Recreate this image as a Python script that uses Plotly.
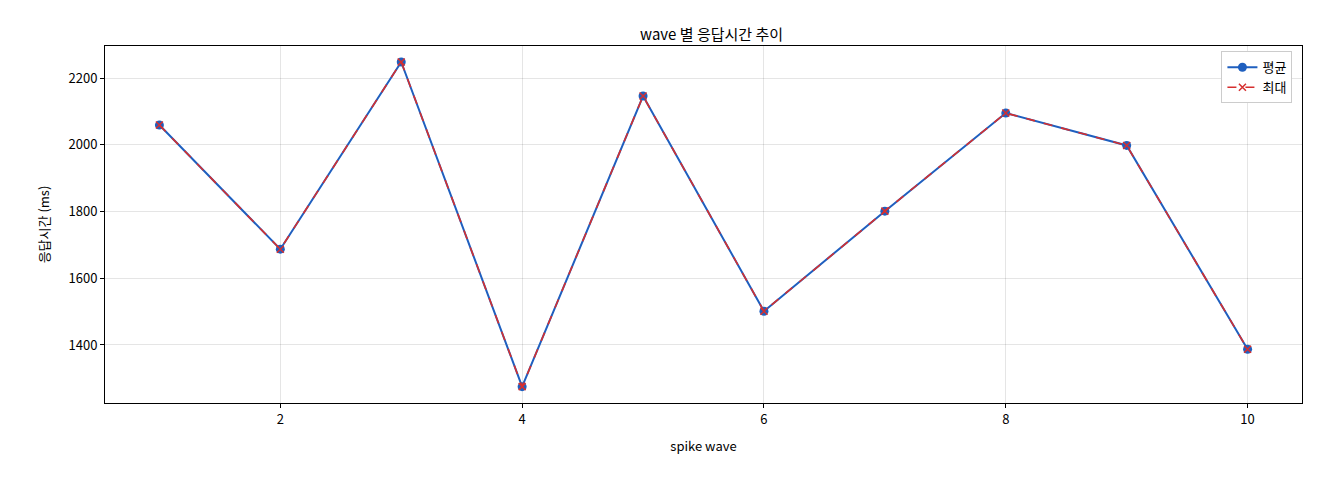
import plotly.graph_objects as go

waves = [1, 2, 3, 4, 5, 6, 7, 8, 9, 10]
avg_ms = [2059, 1687, 2248, 1275, 2146, 1501, 1801, 2095, 1998, 1387]
max_ms = [2059, 1687, 2248, 1275, 2146, 1501, 1801, 2095, 1998, 1387]

FONT = "Noto Sans CJK KR"

fig = go.Figure()
fig.add_trace(go.Scatter(x=waves, y=avg_ms, name="평균", mode="lines+markers",
                         line=dict(color="#1f5fbf", width=2),
                         marker=dict(symbol="circle", size=9, color="#1f5fbf")))
fig.add_trace(go.Scatter(x=waves, y=max_ms, name="최대", mode="lines+markers",
                         line=dict(color="#d62f2f", width=1.6, dash="dash"),
                         marker=dict(symbol="x-thin", size=7, color="#d62f2f",
                                     line=dict(width=1.5, color="#d62f2f"))))

axis_common = dict(showline=True, linecolor="black", mirror=True, ticks="outside",
                   ticklen=4, tickcolor="black", showgrid=True,
                   gridcolor="rgba(0,0,0,0.1)", zeroline=False,
                   tickfont=dict(size=13, color="black"))
fig.update_xaxes(range=[0.55, 10.45], dtick=2, title=dict(text="spike wave", font=dict(size=13)),
                 **axis_common)
fig.update_yaxes(range=[1226, 2296], dtick=200, title=dict(text="응답시간 (ms)", font=dict(size=13)),
                 **axis_common)

fig.update_layout(
    width=1320, height=480,
    font=dict(family=FONT, color="black"),
    title=dict(text="wave 별 응답시간 추이", x=0.533, xanchor="center", y=0.955, font=dict(size=15)),
    plot_bgcolor="white", paper_bgcolor="white",
    margin=dict(l=97, r=26, t=38, b=85),
    legend=dict(x=0.992, y=0.985, xanchor="right", yanchor="top",
                bordercolor="#cccccc", borderwidth=1, bgcolor="white", font=dict(size=13)),
)

fig.write_html("out.html")
